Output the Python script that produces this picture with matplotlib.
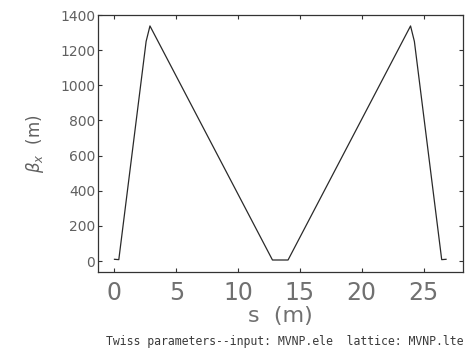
import numpy as np
import matplotlib
matplotlib.use("Agg")
import matplotlib.pyplot as plt

# horizontal beta function along the beamline
s_pos = [0.0, 0.35, 2.56, 2.87, 12.78, 14.04, 23.95, 24.26, 26.47, 26.82]
beta_x = [10, 8, 1250, 1338, 6, 6, 1338, 1250, 8, 10]

x_ticks = [0, 5, 10, 15, 20, 25]
y_ticks = [0, 200, 400, 600, 800, 1000, 1200, 1400]

caption = "Twiss parameters--input: MVNP.ele  lattice: MVNP.lte"

text_col = "#606060"

fig = plt.figure(figsize=(4.73, 3.5), dpi=100)
ax = fig.add_axes([0.207, 0.222, 0.771, 0.735])

ax.plot(s_pos, beta_x, color="#2a2a2a", linewidth=0.9)

ax.set_xlim(-1.34, 28.16)
ax.set_ylim(-64, 1400)
ax.set_xticks(x_ticks)
ax.set_yticks(y_ticks)

ax.tick_params(axis="both", direction="in", length=3, width=0.8,
               top=True, right=True, colors="#333333")
ax.tick_params(axis="x", labelsize=17, pad=6, labelcolor="#707070")
ax.tick_params(axis="y", labelsize=10, pad=2, labelcolor=text_col)

for sp in ax.spines.values():
    sp.set_linewidth(0.9)
    sp.set_color("#333333")

ax.set_xlabel("s  (m)", fontsize=16, color="#707070", labelpad=1)
ax.set_ylabel(r"$\beta_x$  (m)", fontsize=12, color=text_col, labelpad=10)

fig.text(0.603, 0.024, caption, ha="center", va="center",
         fontsize=8.3, color="#3a3a3a", family="DejaVu Sans Mono")

fig.savefig("out.png", dpi=100)
